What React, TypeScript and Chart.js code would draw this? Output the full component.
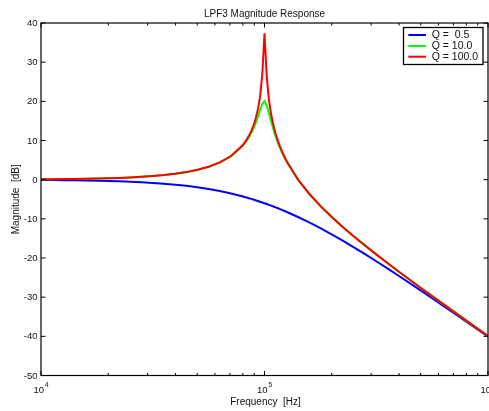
import React, { useEffect, useRef } from "react";
import { Chart, registerables } from "chart.js";

Chart.register(...registerables);

// Frequencies in Hz (log-spaced, denser around the 100 kHz resonance)
const freqs = [
  10000, 11220, 12589, 14125, 15849, 17783, 19953, 22387, 25119, 28184,
  31623, 35481, 39811, 44668, 50119, 56234, 63096, 70795, 79433,
  81283, 83176, 85114, 87096, 89125, 91201, 93325, 95499, 97724,
  100000,
  102329, 104713, 107152, 109648, 112202, 114815, 117490, 120226, 123027, 125893,
  141254, 158489, 177828, 199526, 223872, 251189, 281838, 316228, 354813,
  398107, 446684, 501187, 562341, 630957, 707946, 794328, 891251, 1000000,
];

// Magnitude [dB], Q = 0.5 (blue)
const magQ05 = [
  -0.09, -0.11, -0.14, -0.17, -0.22, -0.27, -0.34, -0.43, -0.53, -0.66,
  -0.83, -1.03, -1.28, -1.58, -1.95, -2.39, -2.91, -3.53, -4.25,
  -4.41, -4.57, -4.73, -4.9, -5.08, -5.26, -5.44, -5.63, -5.82,
  -6.02,
  -6.22, -6.43, -6.64, -6.86, -7.08, -7.3, -7.53, -7.77, -8.01, -8.25,
  -9.53, -10.91, -12.39, -13.95, -15.58, -17.28, -19.03, -20.83, -22.66,
  -24.53, -26.43, -28.34, -30.27, -32.22, -34.17, -36.14, -38.11, -40.09,
];

// Magnitude [dB], Q = 10.0 (green)
const magQ10 = [
  0.09, 0.11, 0.14, 0.17, 0.22, 0.28, 0.35, 0.44, 0.56, 0.72,
  0.91, 1.16, 1.49, 1.92, 2.49, 3.27, 4.36, 5.96, 8.46,
  9.15, 9.92, 10.8, 11.81, 12.99, 14.36, 15.96, 17.73, 19.36,
  20.0,
  18.97, 16.93, 14.76, 12.76, 10.99, 9.41, 8.0, 6.72, 5.55, 4.46,
  -0.05, -3.64, -6.73, -9.51, -12.08, -14.51, -16.84, -19.09, -21.29,
  -23.44, -25.56, -27.65, -29.72, -31.78, -33.83, -35.86, -37.89, -39.91,
];

// Magnitude [dB], Q = 100.0 (red)
const magQ100 = [
  0.09, 0.11, 0.14, 0.18, 0.22, 0.28, 0.35, 0.45, 0.57, 0.72,
  0.92, 1.17, 1.5, 1.93, 2.51, 3.3, 4.41, 6.04, 8.66,
  9.39, 10.22, 11.19, 12.34, 13.73, 15.47, 17.76, 21.06, 26.73,
  37.4,
  26.33, 20.26, 16.56, 13.87, 11.73, 9.94, 8.39, 7.02, 5.79, 4.66,
  0.04, -3.59, -6.7, -9.49, -12.07, -14.5, -16.83, -19.08, -21.28,
  -23.43, -25.55, -27.65, -29.72, -31.78, -33.83, -35.86, -37.89, -39.91,
];

const seriesLabels = ["Q =  0.5", "Q = 10.0", "Q = 100.0"];
const seriesColors = ["#0000ff", "#00ff00", "#ff0000"];

const yTicks = [-50, -40, -30, -20, -10, 0, 10, 20, 30, 40];
const xDecades = [10000, 100000, 1000000];
const xDecadeExponents = ["4", "5", "6"];
const xMinorMultipliers = [2, 3, 4, 5, 6, 7, 8, 9];

const chartTitle = "LPF3 Magnitude Response";
const xTitle = "Frequency  [Hz]";
const yTitle = "Magnitude  [dB]";

const FONT = '"Liberation Sans", Arial, Helvetica, sans-serif';

const framePlugin = {
  id: "matlabFrame",
  afterDraw(chart: any) {
    const { ctx, chartArea: a, scales } = chart;
    const xs = scales.x;
    const ys = scales.y;
    ctx.save();
    ctx.strokeStyle = "#000";
    ctx.fillStyle = "#111";
    ctx.lineWidth = 1.2;

    // Box
    ctx.strokeRect(a.left, a.top, a.right - a.left, a.bottom - a.top);

    // Y ticks (inward) + labels
    ctx.lineWidth = 1;
    ctx.font = `9.5px ${FONT}`;
    ctx.textAlign = "right";
    ctx.textBaseline = "middle";
    yTicks.forEach((v) => {
      const py = ys.getPixelForValue(v);
      ctx.beginPath();
      ctx.moveTo(a.left, py);
      ctx.lineTo(a.left + 4.5, py);
      ctx.moveTo(a.right, py);
      ctx.lineTo(a.right - 4.5, py);
      ctx.stroke();
      ctx.fillText(String(v), a.left - 3.5, py + 0.5);
    });

    // X ticks (inward): majors + log minors
    xDecades.forEach((d, i) => {
      const px = xs.getPixelForValue(d);
      ctx.beginPath();
      ctx.moveTo(px, a.bottom);
      ctx.lineTo(px, a.bottom - 4.5);
      ctx.moveTo(px, a.top);
      ctx.lineTo(px, a.top + 4.5);
      ctx.stroke();
      if (i < xDecades.length - 1) {
        xMinorMultipliers.forEach((m) => {
          const mx = xs.getPixelForValue(d * m);
          ctx.beginPath();
          ctx.moveTo(mx, a.bottom);
          ctx.lineTo(mx, a.bottom - 2.5);
          ctx.moveTo(mx, a.top);
          ctx.lineTo(mx, a.top + 2.5);
          ctx.stroke();
        });
      }
      // label 10^n
      ctx.font = `9.5px ${FONT}`;
      const baseW = ctx.measureText("10").width;
      ctx.font = `6.5px ${FONT}`;
      const supW = ctx.measureText(xDecadeExponents[i]).width;
      const total = baseW + 1 + supW;
      const left = px - total / 2;
      ctx.textAlign = "left";
      ctx.textBaseline = "alphabetic";
      ctx.font = `9.5px ${FONT}`;
      ctx.fillText("10", left, 392.5);
      ctx.font = `6.5px ${FONT}`;
      ctx.fillText(xDecadeExponents[i], left + baseW + 1, 387);
    });

    // Title
    ctx.font = `10px ${FONT}`;
    ctx.textAlign = "center";
    ctx.textBaseline = "middle";
    ctx.fillText(chartTitle, (a.left + a.right) / 2, 14);

    // X axis title
    ctx.fillText(xTitle, (a.left + a.right) / 2 + 1, 402.5);

    // Y axis title
    ctx.save();
    ctx.translate(16, (a.top + a.bottom) / 2);
    ctx.rotate(-Math.PI / 2);
    ctx.fillText(yTitle, 0, 0);
    ctx.restore();

    // Legend
    const lx = 403.5, ly = 27.5, lw = 79.5, lh = 37;
    ctx.fillStyle = "#fff";
    ctx.fillRect(lx, ly, lw, lh);
    ctx.strokeStyle = "#000";
    ctx.lineWidth = 1.3;
    ctx.strokeRect(lx, ly, lw, lh);
    const rows = [35, 46, 56.7];
    ctx.font = `10.5px ${FONT}`;
    ctx.textAlign = "left";
    ctx.textBaseline = "middle";
    seriesLabels.forEach((lab, i) => {
      ctx.strokeStyle = seriesColors[i];
      ctx.lineWidth = 2;
      ctx.beginPath();
      ctx.moveTo(408.3, rows[i]);
      ctx.lineTo(426, rows[i]);
      ctx.stroke();
      ctx.fillStyle = "#111";
      ctx.fillText(lab, 431.7, rows[i] + 0.5);
    });

    ctx.restore();
  },
};

const toPoints = (vals: number[]) => freqs.map((f, i) => ({ x: f, y: vals[i] }));

export default function App() {
  const canvasRef = useRef<HTMLCanvasElement | null>(null);

  useEffect(() => {
    document.body.style.margin = "0";
    const canvas = canvasRef.current;
    if (!canvas) return;
    const series = [magQ05, magQ10, magQ100];
    const chart = new Chart(canvas, {
      type: "line",
      data: {
        datasets: series.map((vals, i) => ({
          label: seriesLabels[i],
          data: toPoints(vals),
          borderColor: seriesColors[i],
          backgroundColor: seriesColors[i],
          borderWidth: 2,
          pointRadius: 0,
          tension: 0,
          fill: false,
          order: 3 - i,
        })),
      },
      options: {
        responsive: false,
        animation: false,
        devicePixelRatio: 1,
        events: [],
        layout: { padding: { left: 0, right: 1, top: 23, bottom: 0 } },
        plugins: {
          legend: { display: false },
          title: { display: false },
          tooltip: { enabled: false },
        },
        scales: {
          x: {
            type: "logarithmic",
            min: 10000,
            max: 1000000,
            ticks: { display: false },
            grid: { display: false },
            border: { display: false },
            afterFit: (s: any) => {
              s.height = 35.5;
            },
          },
          y: {
            type: "linear",
            min: -50,
            max: 40,
            ticks: { display: false },
            grid: { display: false },
            border: { display: false },
            afterFit: (s: any) => {
              s.width = 41;
            },
          },
        },
      },
      plugins: [framePlugin],
    } as any);
    return () => chart.destroy();
  }, []);

  return (
    <div style={{ width: 489, height: 411, background: "#fff" }}>
      <canvas ref={canvasRef} width={489} height={411} style={{ display: "block" }} />
    </div>
  );
}
